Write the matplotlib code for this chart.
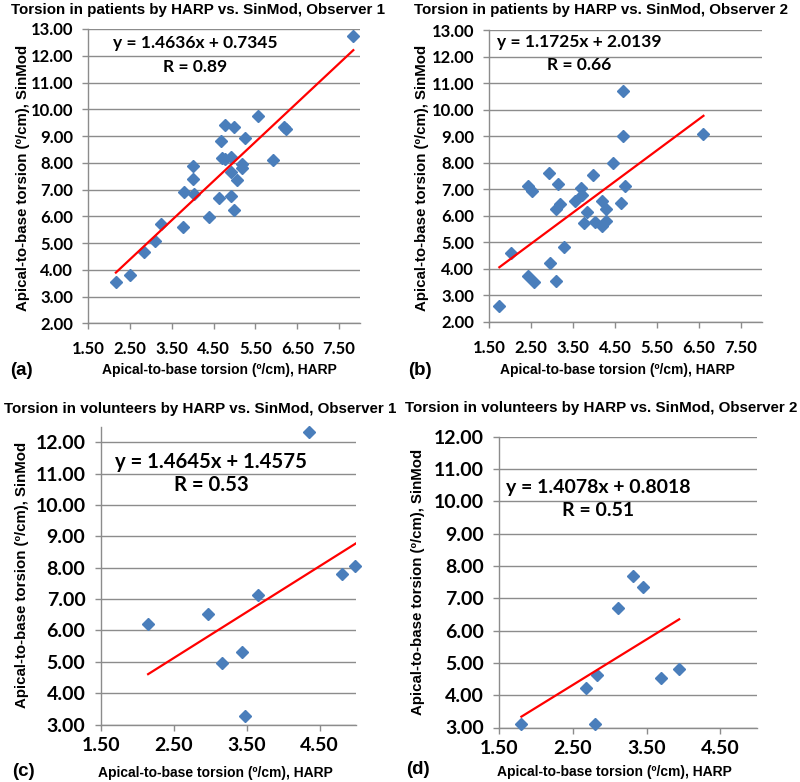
import matplotlib
matplotlib.use('Agg')
import matplotlib.pyplot as plt
import numpy as np

W, H = 800, 782

# panel (a): patients, observer 1
pa_x = [7.84, 5.55, 4.77, 4.99, 6.19, 6.23, 5.26, 4.67, 4.71, 4.77, 4.91, 5.93, 5.18, 5.17, 4.00,
        4.91, 4.01, 5.05, 3.78, 4.03, 4.63, 4.91, 4.99, 4.39, 3.23, 3.77, 3.10, 2.83, 2.50, 2.16]
pa_y = [12.75, 9.76, 9.43, 9.32, 9.32, 9.27, 8.92, 8.81, 8.19, 8.13, 8.22, 8.12, 7.94, 7.81, 7.88,
        7.66, 7.38, 7.35, 6.92, 6.85, 6.70, 6.77, 6.25, 5.96, 5.71, 5.61, 5.08, 4.65, 3.80, 3.55]
# panel (b): patients, observer 2
pb_x = [4.70, 4.70, 6.61, 4.46, 2.92, 3.98, 2.42, 2.53, 3.14, 4.73, 3.68, 3.72, 3.54, 4.20, 3.18,
        3.09, 4.65, 4.28, 3.82, 3.75, 4.02, 4.18, 4.28, 2.01, 3.28, 2.96, 2.43, 2.56, 3.10, 1.74]
pb_y = [10.70, 9.00, 9.07, 7.97, 7.61, 7.52, 7.13, 6.93, 7.20, 7.12, 7.03, 6.78, 6.57, 6.57, 6.43,
        6.25, 6.47, 6.25, 6.13, 5.71, 5.75, 5.61, 5.81, 4.58, 4.81, 4.21, 3.73, 3.49, 3.52, 2.60]
# panel (c): volunteers, observer 1
pc_x = [4.36, 4.99, 4.81, 3.66, 2.97, 2.15, 3.44, 3.16, 3.48]
pc_y = [12.32, 8.07, 7.81, 7.12, 6.51, 6.20, 5.31, 4.96, 3.28]
# panel (d): volunteers, observer 2
pd_x = [3.32, 3.45, 3.11, 3.94, 3.69, 2.82, 2.67, 1.80, 2.80]
pd_y = [7.70, 7.35, 6.69, 4.81, 4.53, 4.61, 4.21, 3.10, 3.10]

slopes = [1.4636, 1.1725, 1.4645, 1.4078]
inters = [0.7345, 2.0139, 1.4575, 0.8018]
r_vals = ['0.89', '0.66', '0.53', '0.51']
titles = ['Torsion in patients by HARP vs. SinMod, Observer 1',
          'Torsion in patients by HARP vs. SinMod, Observer 2',
          'Torsion in volunteers by HARP vs. SinMod, Observer 1',
          'Torsion in volunteers by HARP vs. SinMod, Observer 2']
letters = ['(a)', '(b)', '(c)', '(d)']
xlab = 'Apical-to-base torsion (º/cm), HARP'
ylab = 'Apical-to-base torsion (º/cm), SinMod'

BLUE = '#4A7EBB'
GREY = '#8C8C8C'
TFONT = 'Liberation Sans'
NFONT = 'Lato'


def px(x, y):
    return x / W, 1 - y / H


def make_ax(fig, l, t, r, b, xpad):
    ax = fig.add_axes([l / W, 1 - b / H, (r - l) / W, (b - t) / H])
    for s in ['top', 'right']:
        ax.spines[s].set_visible(False)
    for s in ['left', 'bottom']:
        ax.spines[s].set_color(GREY)
        ax.spines[s].set_linewidth(1.0)
    ax.grid(axis='y', color=GREY, lw=1.0)
    ax.set_axisbelow(True)
    ax.tick_params(direction='out', length=4, color=GREY, width=1.0)
    ax.tick_params(axis='x', pad=xpad)
    ax.tick_params(axis='y', pad=7)
    return ax


fig = plt.figure(figsize=(W / 100, H / 100), dpi=100)

panels = [
    (pa_x, pa_y, (88.3, 29, 360, 323.3), (1.5, 8.0), (2, 13.0), 13, 12, 12.5, 9),
    (pb_x, pb_y, (489.3, 30, 761.7, 321.7), (1.5, 8.0), (2, 13.0), 13, 12, 12.5, 9),
    (pc_x, pc_y, (100.7, 426.7, 356, 724.5), (1.5, 5.0), (3, 12.5), 12, 14, 14.6, 5),
    (pd_x, pd_y, (499.3, 436.7, 757.3, 727.5), (1.5, 5.0), (3, 12.0), 12, 14, 14, 5),
]

for i, (xs, ys, rect, xl, yl, ytop, tsize, esize, xpad) in enumerate(panels):
    ax = make_ax(fig, *rect, xpad)
    ax.set_xlim(*xl)
    ax.set_ylim(*yl)
    ax.set_xticks(np.arange(1.5, xl[1], 1.0))
    ax.set_yticks(np.arange(yl[0], ytop + 1, 1.0))
    ax.set_xticklabels(['%.2f' % v for v in ax.get_xticks()], fontsize=tsize,
                       fontweight='bold', family=NFONT)
    ax.set_yticklabels(['%.2f' % v for v in ax.get_yticks()], fontsize=tsize,
                       fontweight='bold', family=NFONT)
    ax.plot(xs, ys, 'D', color=BLUE, ms=6, mec=BLUE, clip_on=False, zorder=3)
    lx = np.array([min(xs), max(xs)])
    if i == 2:
        lx[1] = xl[1]
    ax.plot(lx, slopes[i] * lx + inters[i], color='red', lw=1.6, zorder=4)
    fig.text(*px(*[(195.5, 43), (579, 41.7), (211, 461.7), (598, 487)][i]),
             'y = %.4fx + %.4f' % (slopes[i], inters[i]), ha='center', va='center',
             fontsize=esize, fontweight='bold', family=NFONT)
    fig.text(*px(*[(195.5, 66.7), (579, 65), (211, 485), (598, 510)][i]),
             'R = ' + r_vals[i], ha='center', va='center',
             fontsize=esize, fontweight='bold', family=NFONT)

# titles, axis labels, letters
title_pos = [(198, 10), (601, 10), (200, 409), (601, 408)]
xlab_pos = [(219, 370), (617, 370), (215, 773), (614, 772)]
ylab_pos = [(23, 178), (422, 178), (22, 575), (418, 582)]
let_pos = [(10, 370), (408, 370), (12, 772), (406, 770)]
for i in range(4):
    fig.text(*px(*title_pos[i]), titles[i], ha='center', va='center', fontsize=10.9,
             fontweight='bold', family=TFONT)
    fig.text(*px(*xlab_pos[i]), xlab, ha='center', va='center', fontsize=10,
             fontweight='bold', family=TFONT)
    fig.text(*px(*ylab_pos[i]), ylab, ha='center', va='center', fontsize=10.8,
             fontweight='bold', family=TFONT, rotation=90)
    fig.text(*px(*let_pos[i]), letters[i], ha='left', va='center', fontsize=13.5,
             fontweight='bold', family=TFONT)

fig.savefig('out.png', dpi=100)
